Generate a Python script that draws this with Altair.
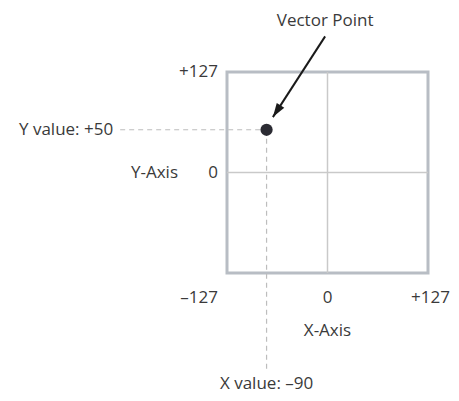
import altair as alt
import pandas as pd

# ---- data ----
axis_min = -127
axis_max = 127
point_x = [-77]
point_y = [54]
point_label_x = "X value: \u201390"
point_label_y = "Y value: +50"
tick_labels_y = ["+127", "0"]
tick_values_y = [127, 0]
tick_labels_x = ["\u2013127", "0", "+127"]
tick_values_x = [-127, 0, 127]
annot_text = ["Vector Point"]
arrow_from = [(-3, 172)]
arrow_to = [(-69, 70)]
guide_x_start = [-262]
guide_y_end = [-251]

FONT = "Open Sans"
FS = 17
TXT = "#3a3a3a"

xs = alt.Scale(domain=[axis_min, axis_max], nice=False, zero=False)
ys = alt.Scale(domain=[axis_min, axis_max], nice=False, zero=False)
X = lambda f: alt.X(f, type="quantitative", scale=xs, axis=None)
Y = lambda f: alt.Y(f, type="quantitative", scale=ys, axis=None)

box_df = pd.DataFrame({"x": [axis_min], "x2": [axis_max], "y": [axis_min], "y2": [axis_max]})
box = alt.Chart(box_df).mark_rect(fill="white", stroke="#b8bdc4", strokeWidth=3).encode(
    x=X("x"), x2="x2", y=Y("y"), y2="y2")

vline_df = pd.DataFrame({"x": [0], "y": [axis_min], "y2": [axis_max]})
vline = alt.Chart(vline_df).mark_rule(color="#c9c9c9", strokeWidth=1.5).encode(
    x=X("x"), y=Y("y"), y2="y2")
hline_df = pd.DataFrame({"y": [0], "x": [axis_min], "x2": [axis_max]})
hline = alt.Chart(hline_df).mark_rule(color="#c9c9c9", strokeWidth=1.5).encode(
    y=Y("y"), x=X("x"), x2="x2")

gh_df = pd.DataFrame({"x": guide_x_start, "x2": point_x, "y": point_y})
gh = alt.Chart(gh_df).mark_rule(color="#bdbdbd", strokeWidth=1.2, strokeDash=[5, 4]).encode(
    x=X("x"), x2="x2", y=Y("y"))
gv_df = pd.DataFrame({"x": point_x, "y": point_y, "y2": guide_y_end})
gv = alt.Chart(gv_df).mark_rule(color="#bdbdbd", strokeWidth=1.2, strokeDash=[5, 4]).encode(
    x=X("x"), y=Y("y"), y2="y2")

pt_df = pd.DataFrame({"x": point_x, "y": point_y})
pt = alt.Chart(pt_df).mark_point(filled=True, size=150, color="#2b2b33", opacity=1).encode(
    x=X("x"), y=Y("y"))

arr_df = pd.DataFrame({"x": [arrow_from[0][0]], "y": [arrow_from[0][1]],
                       "x2": [arrow_to[0][0]], "y2": [arrow_to[0][1]]})
arr_line = alt.Chart(arr_df).mark_rule(color="#1a1a1a", strokeWidth=2).encode(
    x=X("x"), y=Y("y"), x2="x2", y2="y2")
head_df = pd.DataFrame({"x": [arrow_to[0][0]], "y": [arrow_to[0][1]]})
head = alt.Chart(head_df).mark_point(
    shape="M0,0 L0.32,1 L-0.32,1 Z", filled=True, size=784, color="#1a1a1a",
    opacity=1, angle=213).encode(x=X("x"), y=Y("y"))

def txt(df, **kw):
    return alt.Chart(df).mark_text(font=FONT, fontSize=FS, color=TXT, baseline="middle", **kw).encode(
        x=X("x"), y=Y("y"), text="t:N")

ylab = txt(pd.DataFrame({"x": [axis_min] * 2, "y": tick_values_y, "t": tick_labels_y}), align="right", dx=-9)
xlab_l = txt(pd.DataFrame({"x": [tick_values_x[0]], "y": [axis_min], "t": [tick_labels_x[0]]}), align="right", dx=-9, dy=25)
xlab_c = txt(pd.DataFrame({"x": [tick_values_x[1]], "y": [axis_min], "t": [tick_labels_x[1]]}), align="center", dy=25)
xlab_r = txt(pd.DataFrame({"x": [tick_values_x[2]], "y": [axis_min], "t": [tick_labels_x[2]]}), align="right", dx=22, dy=25)
ytitle = txt(pd.DataFrame({"x": [axis_min], "y": [0], "t": ["Y-Axis"]}), align="right", dx=-49)
xtitle = txt(pd.DataFrame({"x": [0], "y": [axis_min], "t": ["X-Axis"]}), align="center", dy=58)
vlab_y = txt(pd.DataFrame({"x": guide_x_start, "y": point_y, "t": [point_label_y]}), align="right", dx=-7)
vlab_x = txt(pd.DataFrame({"x": point_x, "y": guide_y_end, "t": [point_label_x]}), align="center", dy=13)
vp = txt(pd.DataFrame({"x": [arrow_from[0][0]], "y": [arrow_from[0][1]], "t": annot_text}), align="center", dy=-15)

chart = alt.layer(box, vline, hline, gh, gv, pt, arr_line, head,
                  ylab, xlab_l, xlab_c, xlab_r, ytitle, xtitle, vlab_y, vlab_x, vp).properties(
    width=201, height=201,
    autosize=alt.AutoSizeParams(type="none"),
    padding={"left": 219, "top": 64, "right": 23, "bottom": 120},
).configure_view(strokeWidth=0)

chart.save("out.html", embed_options={"renderer": "svg", "actions": False})
